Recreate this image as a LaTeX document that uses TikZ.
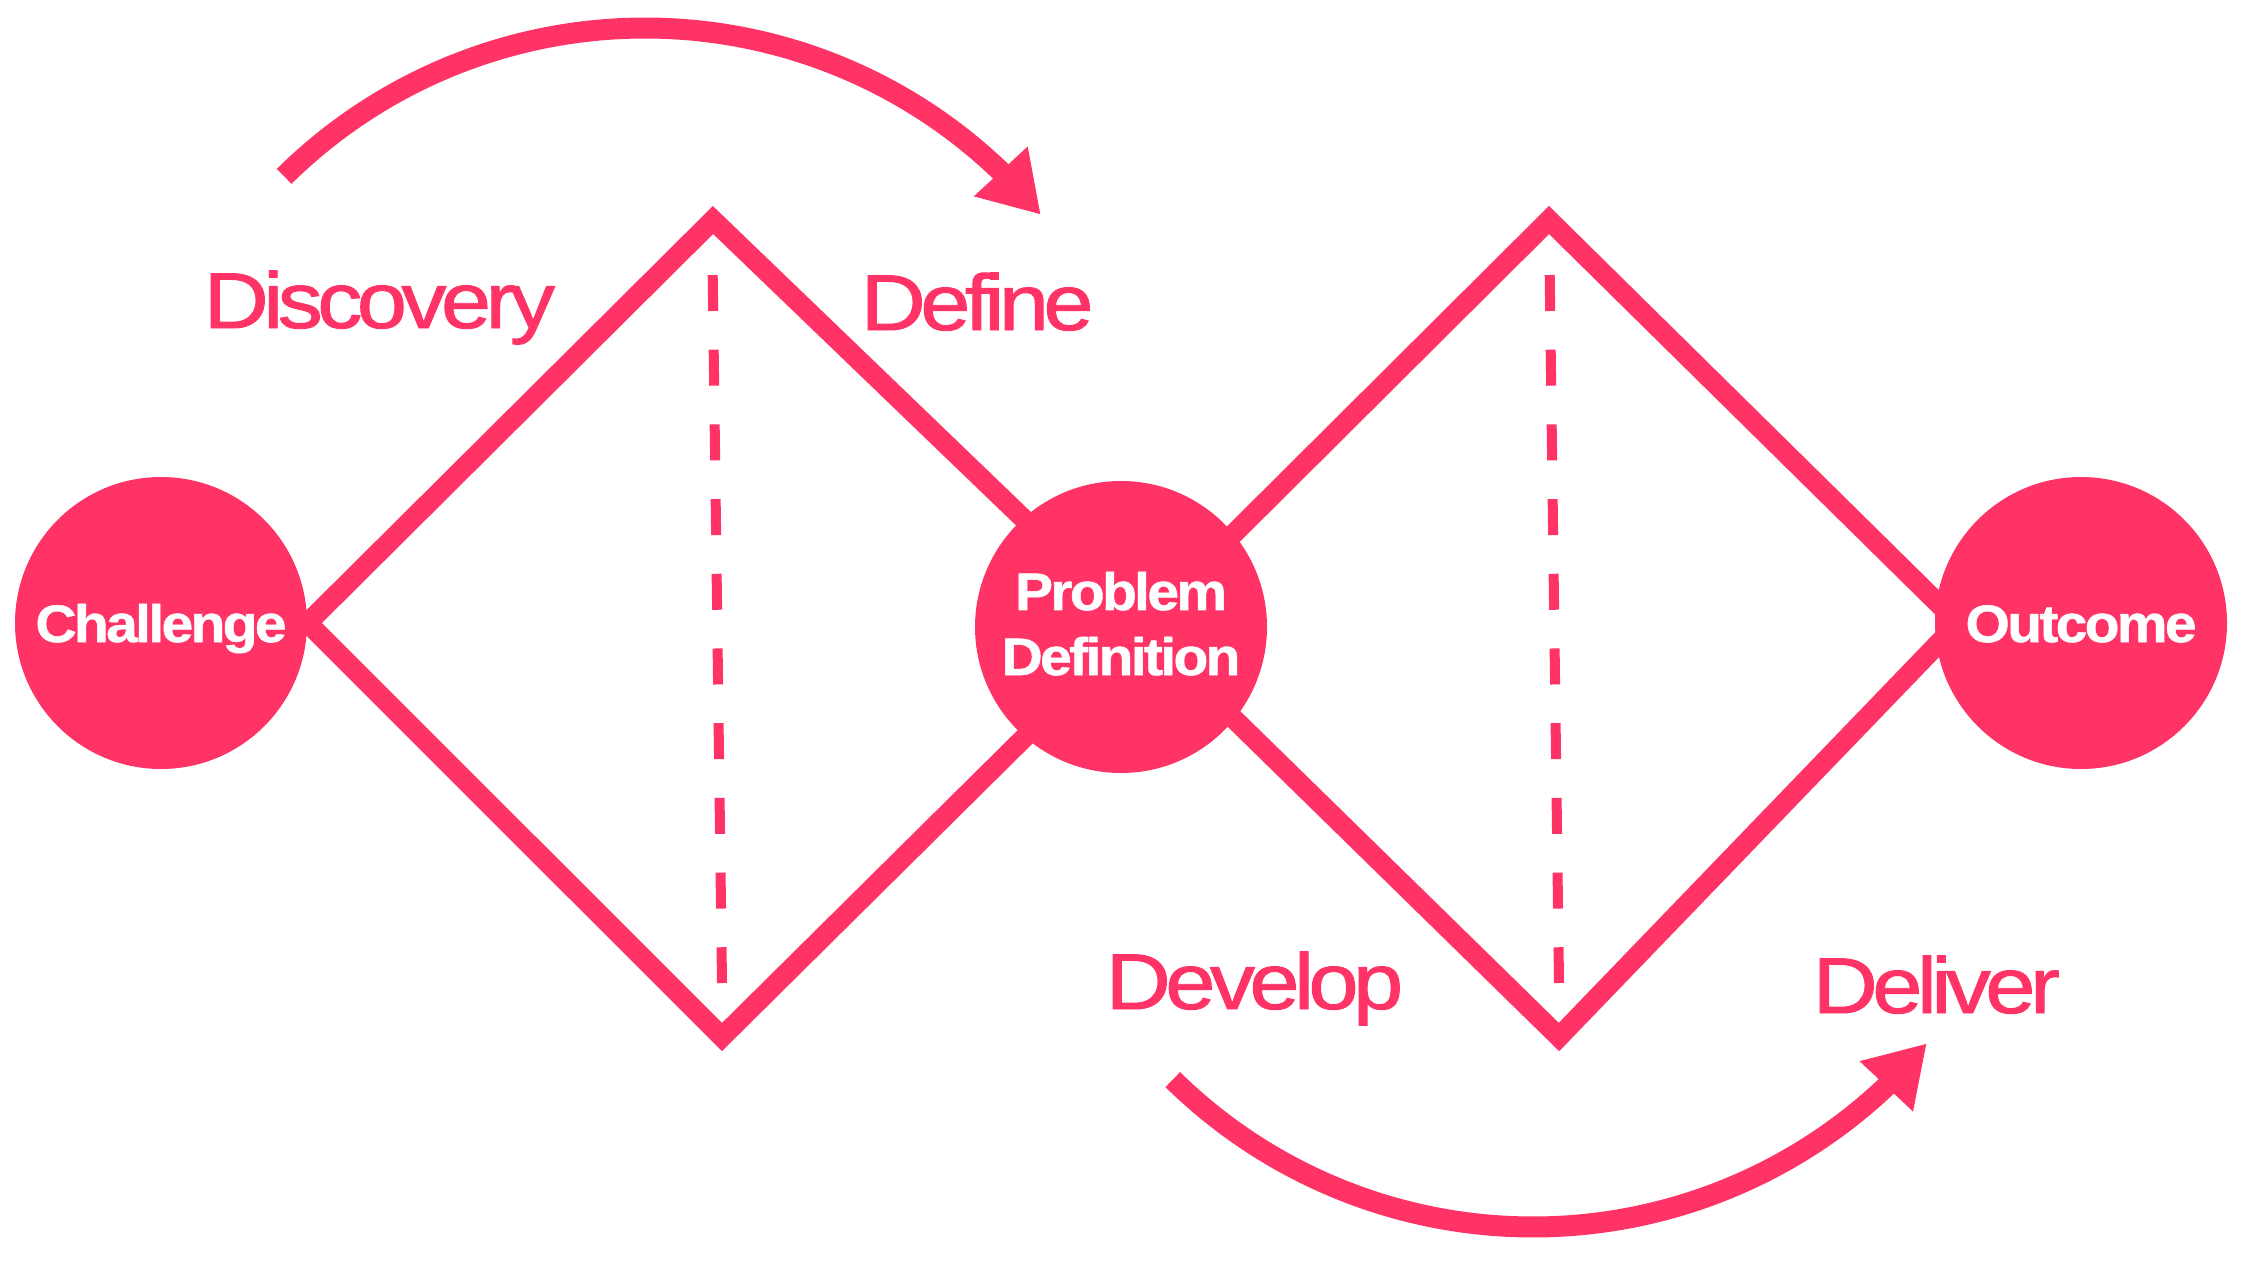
\documentclass[tikz,border=0pt]{standalone}
\usepackage{fontspec}
\setmainfont{Liberation Sans}
\newfontfamily\phasefont[FakeStretch=1.14,LetterSpace=-7,FakeBold=1.2]{Liberation Sans}
\newfontfamily\stagefont[FakeStretch=1.08,LetterSpace=-5,FakeBold=1]{Liberation Sans Bold}
\usetikzlibrary{arrows.meta,bending,backgrounds}
\definecolor{dpink}{RGB}{255,51,102}
\begin{document}
\begin{tikzpicture}[x=0.1mm,y=0.1mm,
  stage/.style={circle,fill=dpink,minimum size=29.2mm,inner sep=0pt,text=white,
    font=\stagefont\fontsize{15}{18.5}\selectfont},
  phase/.style={anchor=base west,inner sep=0pt,text=dpink,
    font=\phasefont\fontsize{22.5}{27}\selectfont},
  diamondline/.style={draw=dpink,line width=2.0mm,line join=miter},
  midline/.style={draw=dpink,line width=1.0mm,dash pattern=on 3.6mm off 3.87mm},
  flow/.style={draw=dpink,line width=2.1mm,-{Triangle[length=5.9mm,width=6.9mm,flex]}}]
\useasboundingbox (0,0) rectangle (2247,1262);
% stage circles
\node[stage,text height=3.8mm,text depth=0pt] (ch) at (161,639) {Challenge};
\node[stage,align=center,text height=9.6mm,text depth=0pt] (pd) at (1121,635) {Problem\\Definition};
\node[stage,text height=3.8mm,text depth=0pt] (oc) at (2081,639) {Outcome};
% diamond vertices
\coordinate (t1) at (713,1042);
\coordinate (b1) at (722,225);
\coordinate (r1) at (1136,635);
\coordinate (l2) at (1140,635);
\coordinate (t2) at (1549,1042);
\coordinate (b2) at (1559,225);
\coordinate (r2) at (1958,639);
\coordinate (d1s) at (712.7,987);
\coordinate (d1e) at (722,279);
\coordinate (d2s) at (1549.7,987);
\coordinate (d2e) at (1559,279);
\begin{scope}[on background layer]
  \draw[midline] (d1s) -- (d1e);
  \draw[midline] (d2s) -- (d2e);
  \draw[diamondline] (ch.east) -- (t1) -- (r1) -- (b1) -- cycle;
  \draw[diamondline] (l2) -- (t2) -- (r2) -- (b2) -- cycle;
\end{scope}
% phase labels
\node[phase] (discovery) at (203,934) {Discovery};
\node[phase] (define) at (860,932) {Define};
\node[phase] (develop) at (1105,253) {Develop};
\node[phase] (deliver) at (1812,249) {Deliver};
% flow arrows
\coordinate (c1) at (645,721);
\coordinate (c2) at (1533,549);
\draw[flow] (c1) ++(134.7:513) arc[start angle=134.7,end angle=39.5,radius=51.3mm];
\draw[flow] (c2) ++(225.5:514) arc[start angle=225.5,end angle=320,radius=51.4mm];
\end{tikzpicture}
\end{document}
